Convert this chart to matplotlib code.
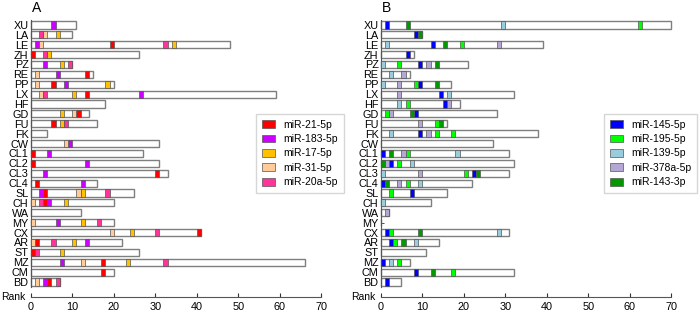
import matplotlib
matplotlib.use("Agg")
import matplotlib.pyplot as plt
from matplotlib.patches import Patch

plt.rcParams['font.family'] = ['Liberation Sans', 'DejaVu Sans']

categories = ["XU", "LA", "LE", "ZH", "PZ", "RE", "PP", "LX", "HF", "GD", "FU", "FK", "CW",
              "CL1", "CL2", "CL3", "CL4", "SL", "CH", "WA", "MY", "CX", "AR", "ST", "MZ", "CM", "BD"]

# total length of each row (panel A / panel B)
len_a = [11, 10, 48, 26, 10, 15, 20, 59, 18, 14, 16, 4, 31,
         27, 31, 33, 16, 25, 20, 12, 20, 41, 22, 26, 66, 20, 7]
len_b = [70, 10, 39, 8, 21, 7, 17, 32, 19, 28, 16, 38, 27,
         31, 32, 31, 22, 16, 12, 2, 0, 31, 14, 11, 7, 32, 5]

# panel A: rank of each miRNA (category, rank)
mir21_cats = ["LE", "ZH", "RE", "PP", "LX", "GD", "FU", "CL1", "CL2", "CL3", "CL4", "SL", "CH", "CX", "AR", "ST", "MZ", "CM", "BD"]
mir21_ranks = [20, 1, 14, 6, 14, 12, 6, 1, 1, 31, 2, 4, 4, 41, 2, 1, 18, 18, 5]
mir183_cats = ["XU", "LE", "PZ", "RE", "PP", "LX", "CW", "CL1", "CL2", "CL3", "CL4", "SL", "CH", "MY", "AR", "MZ", "BD"]
mir183_ranks = [6, 2, 4, 7, 9, 27, 10, 5, 14, 4, 13, 3, 5, 7, 14, 8, 4]
mir17_cats = ["LA", "LE", "ZH", "PZ", "PP", "LX", "GD", "FU", "SL", "CH", "MY", "CX", "AR", "ST", "MZ"]
mir17_ranks = [7, 35, 5, 8, 19, 11, 8, 8, 13, 9, 13, 25, 11, 8, 24]
mir31_cats = ["LA", "LE", "RE", "PP", "LX", "GD", "CW", "SL", "CH", "MY", "CX", "AR", "MZ", "BD"]
mir31_ranks = [4, 3, 2, 2, 3, 11, 9, 12, 1, 1, 20, 1, 13, 2]
mir20a_cats = ["LA", "LE", "ZH", "PZ", "LX", "FU", "SL", "CH", "MY", "CX", "AR", "ST", "MZ", "BD"]
mir20a_ranks = [3, 33, 4, 10, 4, 9, 19, 3, 17, 31, 6, 2, 33, 7]

# panel B
mir145_cats = ["XU", "LA", "LE", "ZH", "PZ", "PP", "LX", "HF", "GD", "FK", "CL1", "CL2", "CL3", "CL4", "SL", "CX", "AR", "MZ", "CM", "BD"]
mir145_ranks = [2, 9, 13, 7, 10, 10, 15, 16, 9, 10, 1, 3, 23, 1, 8, 2, 3, 1, 9, 2]
mir195_cats = ["XU", "LE", "PZ", "PP", "HF", "GD", "FU", "FK", "FK", "CL1", "CL2", "CL3", "CL4", "SL", "CX", "AR", "MZ", "CM"]
mir195_ranks = [63, 20, 5, 9, 7, 2, 14, 14, 18, 7, 5, 21, 7, 3, 3, 4, 5, 18]
mir139_cats = ["XU", "LE", "PZ", "RE", "PP", "LX", "HF", "FK", "CL1", "CL2", "CL3", "CL4", "CH", "CX", "AR", "MZ"]
mir139_ranks = [30, 2, 1, 3, 1, 17, 5, 3, 19, 8, 1, 10, 1, 29, 9, 3]
mir378_cats = ["LE", "PZ", "RE", "PP", "LX", "HF", "GD", "FU", "FK", "CL1", "CL2", "CL3", "CL4", "WA"]
mir378_ranks = [29, 12, 6, 5, 5, 17, 3, 10, 12, 6, 2, 10, 5, 2]
mir143_cats = ["XU", "LA", "LE", "PZ", "PP", "GD", "FU", "CL1", "CL2", "CL3", "CL4", "CX", "AR", "CM"]
mir143_ranks = [7, 10, 16, 14, 14, 8, 15, 3, 1, 24, 2, 10, 6, 13]

series_a = [("miR-21-5p", "#ff0000", mir21_cats, mir21_ranks),
            ("miR-183-5p", "#cc00ff", mir183_cats, mir183_ranks),
            ("miR-17-5p", "#ffc000", mir17_cats, mir17_ranks),
            ("miR-31-5p", "#ffcc99", mir31_cats, mir31_ranks),
            ("miR-20a-5p", "#ff3399", mir20a_cats, mir20a_ranks)]
series_b = [("miR-145-5p", "#0000ff", mir145_cats, mir145_ranks),
            ("miR-195-5p", "#00ff00", mir195_cats, mir195_ranks),
            ("miR-139-5p", "#99ccdd", mir139_cats, mir139_ranks),
            ("miR-378a-5p", "#b4a7d6", mir378_cats, mir378_ranks),
            ("miR-143-3p", "#009900", mir143_cats, mir143_ranks)]


def draw_panel(fig, left, lengths, series, label, legend_x):
    W, H = 700, 323
    ax = fig.add_axes([left / W, (H - 297) / H, 290.5 / W, 277 / H])
    ypos = list(range(len(categories)))
    ax.barh(ypos, lengths, left=0, height=0.72, color="white",
            edgecolor="#7f7f7f", linewidth=1.0, clip_on=False, zorder=2)
    handles = []
    for name, col, cats, ranks in series:
        y = [categories.index(c) for c in cats]
        starts = [r - 1 for r in ranks]
        ax.barh(y, [1] * len(y), left=starts, height=0.72, color=col,
                edgecolor="#555555", linewidth=0.5, clip_on=False, zorder=3)
        handles.append(Patch(facecolor=col, edgecolor="#555555", linewidth=0.5, label=name))

    ax.set_xlim(0, 70)
    ax.set_ylim(27.52, -0.5)
    ax.set_yticks(ypos)
    ax.set_yticklabels(categories, fontsize=7.8)
    ax.set_xticks(range(0, 71, 10))
    ax.tick_params(axis="x", direction="in", length=3, width=0.8, labelsize=7.8, pad=3.5, colors="#333333")
    ax.tick_params(axis="y", direction="in", length=2, width=0.6, pad=1.5, colors="#333333")
    for t in ax.get_xticklabels() + ax.get_yticklabels():
        t.set_color("black")
    ax.spines["top"].set_visible(False)
    ax.spines["right"].set_visible(False)
    ax.spines["left"].set_bounds(26.5, -0.5)
    ax.spines["bottom"].set_bounds(0, 70)
    for s in ("left", "bottom"):
        ax.spines[s].set_color("#555555")
        ax.spines[s].set_linewidth(0.8)
    ax.set_facecolor("none")

    ax.text(-0.019, 0, "Rank", transform=ax.transAxes, ha="right", va="center", fontsize=7.5)
    fig.text((left + 1) / W, 1 - 8 / H, label, ha="left", va="center", fontsize=10)

    fig.legend(handles=handles, loc="upper left",
               bbox_to_anchor=(legend_x / W, 1 - 114 / H), bbox_transform=fig.transFigure,
               borderaxespad=0, fontsize=7.5, frameon=True, fancybox=False,
               edgecolor="#cccccc", labelspacing=0.42, handlelength=1.3,
               handleheight=0.8, handletextpad=0.8, borderpad=0.55)
    return ax


fig = plt.figure(figsize=(7, 3.23), dpi=100)
draw_panel(fig, 30.7, len_a, series_a, "A", 256)
draw_panel(fig, 380.7, len_b, series_b, "B", 604)
fig.savefig("out.png", dpi=100, facecolor="white")
